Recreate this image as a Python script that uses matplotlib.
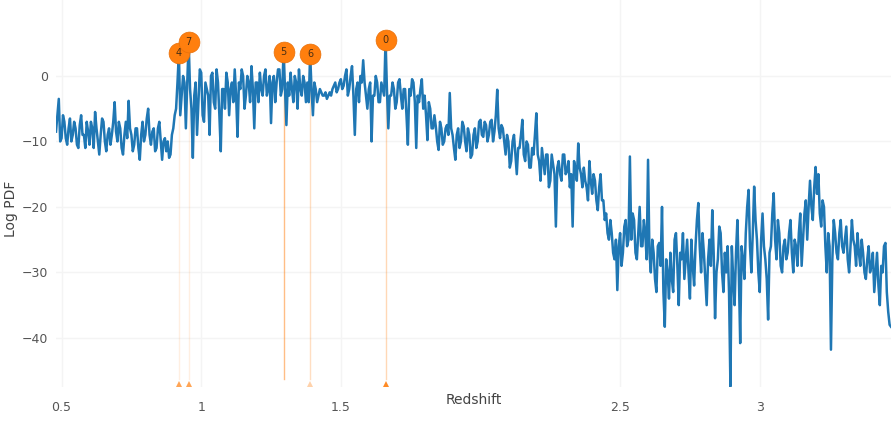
#!/usr/bin/env python3
"""
Redshift PDF with labelled peaks
"""

import matplotlib
matplotlib.use('Agg')
import matplotlib.pyplot as plt
import numpy as np

# redshift grid of the PDF: 0.48 .. 3.47 in steps of 0.005 (one row = 0.1 in z)
Z_START, Z_STEP = 0.48, 0.005

LOG_PDF = [
    -8.5, -6, -3.5, -10, -9.5, -6, -7, -9.5, -10.5, -8, -6.5, -10, -9, -7, -8, -10.5, -11, -7.5, -6, -9,
    -9, -11, -7, -8.5, -10.5, -7, -8, -11, -5.5, -8, -10, -12, -9, -6.5, -7, -10, -11.5, -9, -8, -10.5,
    -9, -7, -4, -8.5, -10, -7, -8, -11, -12, -9, -7, -9.5, -3.8, -8, -9, -11.5, -10.5, -8, -8, -11,
    -12.8, -9, -7, -10, -9, -6.5, -5, -9, -10.5, -8.5, -8, -11.5, -11, -8, -7, -10, -12.8, -10, -9.5, -11.5,
    -10, -12.5, -12, -9, -8, -6, -5, -1, 3.5, -6, -3, 0, -1, -8, -1, 5.2, -2, -5, -12.5, -3,
    -1, -9, -4, 1, 0.5, -6, -7, -1, -2, -3, -9, 0, 0.5, -4, -5, 1, -1, -6, -11.5, -2,
    -2, -5, 0.5, -1, -6, -2, -1, -4, 1, -3, -9.3, -1, -2, 1, 0, -5, -3, 0, -1, -4,
    1.5, -2, -8, -1, -1, -4, 0.5, -2, -3, 0, 1, -3, -2, 0, -7.2, -1, 0, -4, -1, 1,
    1, -3, -2, 3.7, -2, -7.5, -1, -3, 0.5, -2, -4, 0, -1, -5, 1, -2, -3, 0, -1, -4,
    -1, -4, 3.4, -2, -6, -1, -2, -4, -3, -2, -2.5, -3, -3, -2.5, -3.5, -3, -2.5, -3, -2, -1.5,
    -1, -2.5, -2, -1, -0.5, -2, -1.5, 0, 1, -3, -2, 0, 1.5, -3, -9, -2, -1, -4, 0, -1,
    2.4, -1, -3, -5, -2, -1, -10, -3, -3, 0, -1, -4, -4, -1, -2, -3, 5.5, -2, -8, -3,
    -3, -1, -2, -5, -4, -1, -0.5, -3, -5, -2, -2, -6, -10.5, -2, -3, -0.5, -1, -4, -11, -3,
    -4, -2, -0.5, -5, -3, -6, -9.8, -4, -5, -8, -8, -6, -7.7, -10, -11.3, -7, -8, -10.5, -10, -8,
    -7.5, -9, -2.6, -8, -9, -11, -12.8, -9, -8, -11, -10, -7, -7.7, -10, -11.5, -8, -9, -12.5, -12, -9,
    -8, -11, -10, -7, -6.7, -9, -9.3, -7, -7.5, -10, -9, -7, -6.7, -10, -8.5, -6, -2.1, -8, -9.5, -7.5,
    -8, -10, -12, -9, -10, -14, -13, -10, -9, -12, -15, -11, -11, -9, -6.7, -12, -13, -10, -10.5, -14,
    -14, -11, -12, -9, -5.7, -12, -13, -16, -11, -13, -15, -12, -12, -17, -16, -12, -13.5, -15, -23, -14,
    -13, -15, -16, -12, -12, -15, -14.5, -13, -17, -15, -23, -13, -14, -16, -10.3, -14, -15, -17, -14, -16,
    -17, -19, -13, -16, -18, -15, -16, -19, -20.5, -17, -15, -19, -19, -22, -21, -24, -25, -22, -24, -27,
    -28, -25, -32.7, -26, -24, -29, -27, -23, -22, -26, -25, -12.3, -25, -21, -22, -27, -28, -24, -20, -26,
    -26, -22, -24, -28, -12.8, -27, -30, -25, -27, -31, -33, -26, -25.5, -29, -20, -33, -38.3, -28, -30, -34,
    -27, -31, -33, -25, -24, -29, -35, -27, -28, -24, -31, -28, -25, -30, -34, -25, -29, -32, -26, -22,
    -19.4, -26, -30, -24, -27, -31, -35, -28, -25, -29, -20.5, -27, -37, -30, -28, -23, -24, -30, -33, -27,
    -30, -26, -33, -47.4, -26, -31, -35, -27, -22, -30, -40.8, -26, -28, -31, -24, -20, -17.4, -26, -30, -24,
    -16.9, -22, -25, -30, -33, -25, -21, -26, -28, -31, -37.2, -27, -26, -21, -17.9, -25, -28, -22, -24, -29,
    -30, -26, -25, -28, -27, -24, -22, -27, -30, -25, -26, -29, -24, -21, -29, -25, -21, -19, -25, -20,
    -16, -20, -22, -17, -13.9, -18, -15, -21, -23, -19, -20, -26, -30, -24, -26, -41.8, -28, -22, -24, -27,
    -28, -24, -22, -26, -27, -25, -23, -28, -30, -26, -22, -25, -26, -29, -24, -27, -29, -25, -27, -30,
    -31, -28, -26, -30, -29, -27, -33, -30, -27, -32, -35, -29, -30, -26, -25.5, -33, -36, -38, -38.3,
]

# labelled peaks
PEAK_Z = [0.92, 0.955, 1.295, 1.39, 1.66]
PEAK_LOGP = [3.5, 5.2, 3.7, 3.4, 5.5]
PEAK_LABELS = ['4', '7', '5', '6', '0']
LINE_ALPHA = [0.12, 0.12, 0.5, 0.25, 0.3]

# markers along the bottom
MARK_Z = [0.92, 0.955, 1.39, 1.66]
MARK_ALPHA = [0.7, 0.7, 0.35, 0.9]

BLUE = '#1f77b4'
ORANGE = '#ff7f0e'
Y_MIN, Y_MAX = -47.5, 11.6


def main():
    z = Z_START + Z_STEP * np.arange(len(LOG_PDF))

    fig = plt.figure(figsize=(8.91, 4.34), dpi=100)
    ax = fig.add_axes([56 / 891, 47 / 434, 835 / 891, 387 / 434])

    for pz, py, a in zip(PEAK_Z, PEAK_LOGP, LINE_ALPHA):
        ax.plot([pz, pz], [Y_MIN + 1.2, py], color=ORANGE, lw=1, alpha=a, zorder=1)

    ax.plot(z, LOG_PDF, color=BLUE, lw=1.8, zorder=2)

    for pz, py, lab in zip(PEAK_Z, PEAK_LOGP, PEAK_LABELS):
        ax.plot(pz, py, 'o', color=ORANGE, ms=15, mec='#e8700a', mew=0.5, zorder=3)
        ax.text(pz, py, lab, ha='center', va='center', fontsize=7, color='#4a2f14', zorder=4)

    for mz, a in zip(MARK_Z, MARK_ALPHA):
        ax.plot(mz, Y_MIN + 0.4, '^', color=ORANGE, ms=5, alpha=a, mew=0,
                clip_on=False, zorder=3)

    ax.set_xlim(0.48, 3.47)
    ax.set_ylim(Y_MIN, Y_MAX)
    ax.set_xticks([0.5, 1, 1.5, 2.5, 3])
    ax.set_xticklabels(['0.5', '1', '1.5', '2.5', '3'])
    ax.set_yticks([0, -10, -20, -30, -40])
    ax.tick_params(length=0, labelsize=9, labelcolor='#555555')
    ax.tick_params(axis='x', pad=10)
    ax.tick_params(axis='y', pad=6)
    for s in ax.spines.values():
        s.set_visible(False)
    ax.grid(True, color='#f4f4f4', lw=1)
    ax.set_axisbelow(True)

    ax.text(0.5, -0.034, 'Redshift', transform=ax.transAxes, ha='center',
            va='center', fontsize=10, color='#444444')
    fig.text(0.012, 0.52, 'Log PDF', rotation=90, ha='center', va='center',
             fontsize=10, color='#444444')

    fig.savefig('out.png', dpi=100)


if __name__ == '__main__':
    main()
